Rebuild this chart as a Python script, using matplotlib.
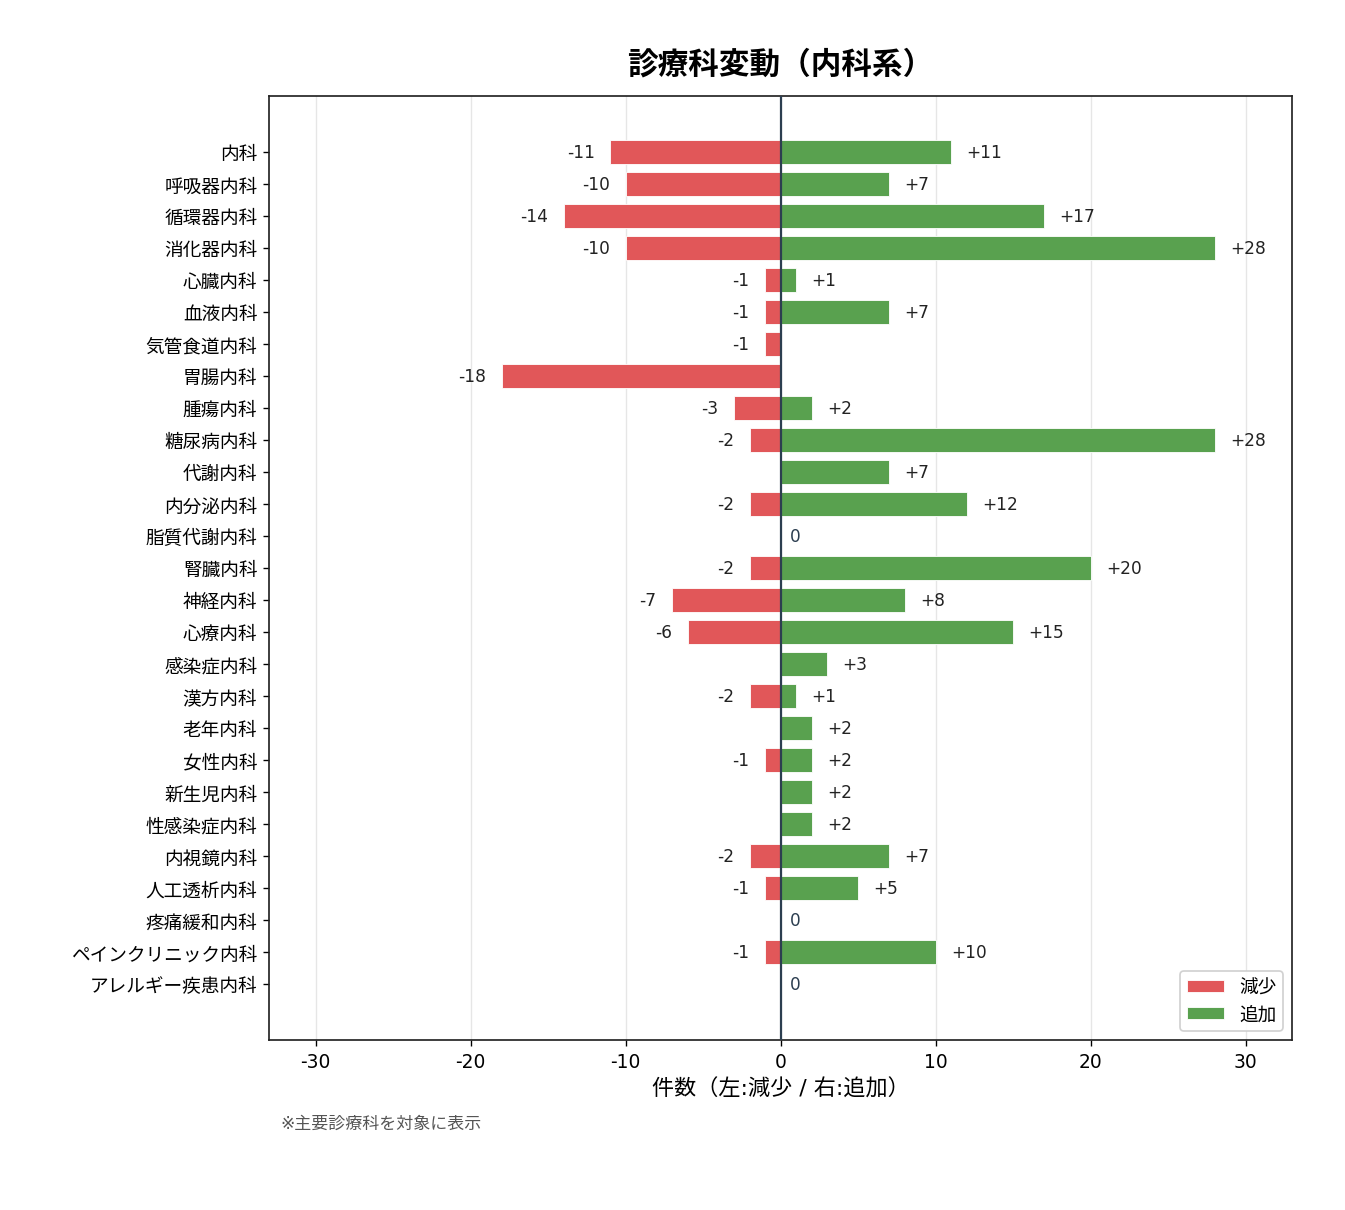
import matplotlib.pyplot as plt
import numpy as np

plt.rcParams['font.family'] = ['DejaVu Sans', 'Noto Sans CJK JP']
plt.rcParams['axes.unicode_minus'] = False

# Data
departments = [
    '内科', '呼吸器内科', '循環器内科', '消化器内科', '心臓内科', '血液内科',
    '気管食道内科', '胃腸内科', '腫瘍内科', '糖尿病内科', '代謝内科', '内分泌内科',
    '脂質代謝内科', '腎臓内科', '神経内科', '心療内科', '感染症内科', '漢方内科',
    '老年内科', '女性内科', '新生児内科', '性感染症内科', '内視鏡内科', '人工透析内科',
    '疼痛緩和内科', 'ペインクリニック内科', 'アレルギー疾患内科',
]
decrease = [11, 10, 14, 10, 1, 1, 1, 18, 3, 2, 0, 2, 0, 2, 7, 6, 0, 2, 0, 1, 0, 0, 2, 1, 0, 1, 0]
increase = [11, 7, 17, 28, 1, 7, 0, 0, 2, 28, 7, 12, 0, 20, 8, 15, 3, 1, 2, 2, 2, 2, 7, 5, 0, 10, 0]

RED = '#e15759'
GREEN = '#59a14f'

fig, ax = plt.subplots(figsize=(11, 9.897), dpi=122.36)
fig.subplots_adjust(left=0.2, right=0.96, top=0.92, bottom=0.1405)

y = np.arange(len(departments))
dec = -np.array(decrease)
inc = np.array(increase)

ax.barh(y, dec, height=0.74, color=RED, edgecolor='white', linewidth=0.5, label='減少', zorder=2)
ax.barh(y, inc, height=0.74, color=GREEN, edgecolor='white', linewidth=0.5, label='追加', zorder=2)

# Value labels
for i in range(len(departments)):
    if decrease[i] == 0 and increase[i] == 0:
        ax.text(0.6, i, '0', va='center', ha='left', fontsize=10, color='#2c3e50')
        continue
    if decrease[i] > 0:
        ax.text(dec[i] - 1.0, i, f'-{decrease[i]}', va='center', ha='right',
                fontsize=10, color='#222222')
    if increase[i] > 0:
        ax.text(inc[i] + 1.0, i, f'+{increase[i]}', va='center', ha='left',
                fontsize=10, color='#222222')

ax.axvline(0, color='#2c3e50', linewidth=1.3, zorder=3)

ax.set_yticks(y)
ax.set_yticklabels(departments, fontsize=11)
ax.set_ylim(len(departments) - 1 + 1.75, -1.75)
ax.set_xlim(-33, 33)
ax.set_xticks([-30, -20, -10, 0, 10, 20, 30])
ax.tick_params(axis='x', labelsize=11)
ax.grid(axis='x', color='#e6e6e6', linewidth=0.8, zorder=0)
ax.set_axisbelow(True)

for s in ax.spines.values():
    s.set_linewidth(1.0)
    s.set_color('#222222')

ax.set_title('診療科変動（内科系）', fontsize=18, fontweight='bold', pad=14)
ax.set_xlabel('件数（左:減少 / 右:追加）', fontsize=13)

ax.legend(loc='lower right', fontsize=11, framealpha=0.9, handlelength=2.0,
          handleheight=0.6, borderpad=0.35, labelspacing=0.45)

fig.text(0.208, 0.072, '※主要診療科を対象に表示', fontsize=10, color='#555555',
         ha='left', va='center')

plt.savefig('out.png', dpi=122.36)
